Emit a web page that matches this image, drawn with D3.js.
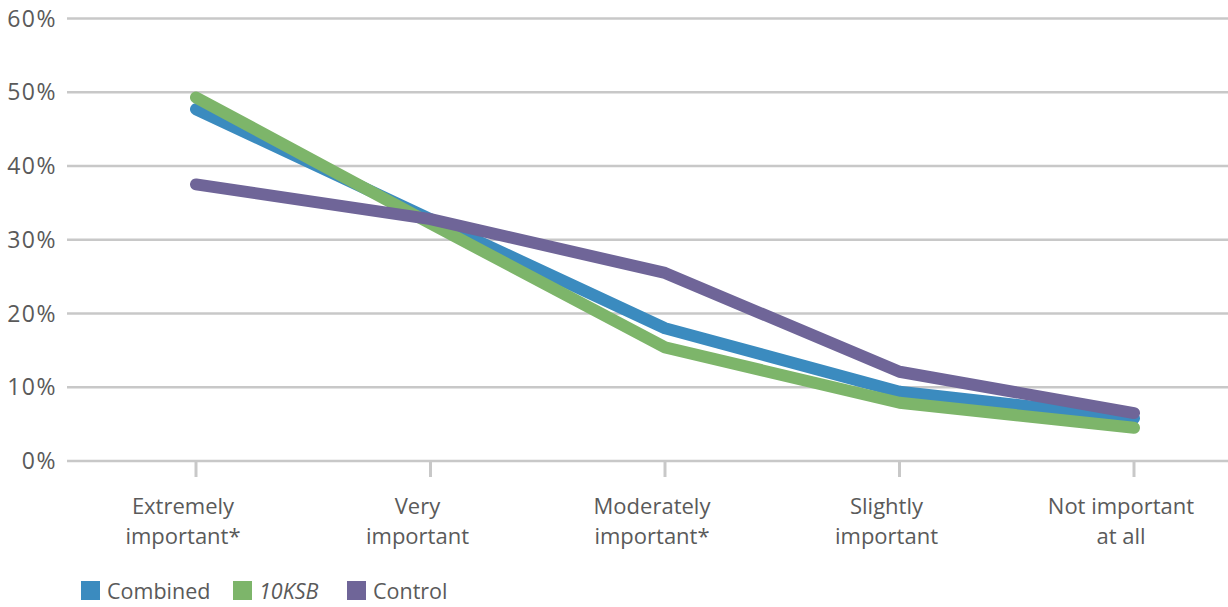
<!DOCTYPE html>
<html>
<head>
<meta charset="utf-8">
<script src="https://cdn.jsdelivr.net/npm/d3@7"></script>
<style>
  html, body { margin: 0; padding: 0; background: #fff; }
  svg text { font-family: "Open Sans", "Noto Sans", sans-serif; fill: #5a5a5a; }
</style>
</head>
<body>
<svg id="chart" width="1228" height="607"></svg>
<script>
// Response categories (line breaks marked with "|")
const categories = ["Extremely|important*", "Very|important", "Moderately|important*", "Slightly|important", "Not important|at all"];
const combined = [47.7, 32.8, 18.0, 9.4, 5.8];
const tenKSB   = [49.3, 32.2, 15.4, 7.9, 4.5];
const control  = [37.5, 32.8, 25.5, 12.1, 6.5];
const yTicks = [0, 10, 20, 30, 40, 50, 60];
const seriesNames = ["Combined", "10KSB", "Control"];
const seriesColors = ["#3b8bbf", "#7db56a", "#6f6598"];

const series = [
  { name: seriesNames[0], values: combined, color: seriesColors[0], italic: false },
  { name: seriesNames[1], values: tenKSB,   color: seriesColors[1], italic: true },
  { name: seriesNames[2], values: control,  color: seriesColors[2], italic: false }
];

const svg = d3.select("#chart");

const x = d3.scalePoint().domain(categories).range([196, 1134]);
const y = d3.scaleLinear().domain([0, 60]).range([461, 18.5]);

// Horizontal gridlines
svg.append("g").selectAll("line")
  .data(yTicks)
  .join("line")
  .attr("x1", 67).attr("x2", 1228)
  .attr("y1", d => y(d)).attr("y2", d => y(d))
  .attr("stroke", "#c8c8c8").attr("stroke-width", 2.5);

// Y axis labels
svg.append("g").selectAll("text")
  .data(yTicks)
  .join("text")
  .attr("x", 57).attr("y", d => y(d) + 8)
  .attr("text-anchor", "end")
  .attr("font-size", 23)
  .attr("letter-spacing", 1.5)
  .text(d => d + "%");

// Category tick marks under the baseline
svg.append("g").selectAll("line")
  .data(categories)
  .join("line")
  .attr("x1", d => x(d)).attr("x2", d => x(d))
  .attr("y1", y(0)).attr("y2", y(0) + 16)
  .attr("stroke", "#c8c8c8").attr("stroke-width", 3);

// Category labels (two lines), set slightly left of each tick
const catLabels = svg.append("g").selectAll("text")
  .data(categories)
  .join("text")
  .attr("text-anchor", "middle")
  .attr("font-size", 22);
catLabels.each(function(d) {
  const t = d3.select(this);
  d.split("|").forEach((line, i) => {
    t.append("tspan")
      .attr("x", x(d) - 13)
      .attr("y", 514 + i * 30)
      .text(line);
  });
});

// Lines
const line = d3.line()
  .x((d, i) => x(categories[i]))
  .y(d => y(d));

svg.append("g").selectAll("path")
  .data(series)
  .join("path")
  .attr("d", d => line(d.values))
  .attr("fill", "none")
  .attr("stroke", d => d.color)
  .attr("stroke-width", 12)
  .attr("stroke-linecap", "round")
  .attr("stroke-linejoin", "round");

// Legend
const legendX = [81, 233, 347];
const legend = svg.append("g").selectAll("g")
  .data(series)
  .join("g")
  .attr("transform", (d, i) => `translate(${legendX[i]},581)`);
legend.append("rect")
  .attr("width", 19).attr("height", 19)
  .attr("fill", d => d.color);
legend.append("text")
  .attr("x", 26).attr("y", 18)
  .attr("font-size", 21.5)
  .attr("font-style", d => d.italic ? "italic" : "normal")
  .text(d => d.name);
</script>
</body>
</html>
